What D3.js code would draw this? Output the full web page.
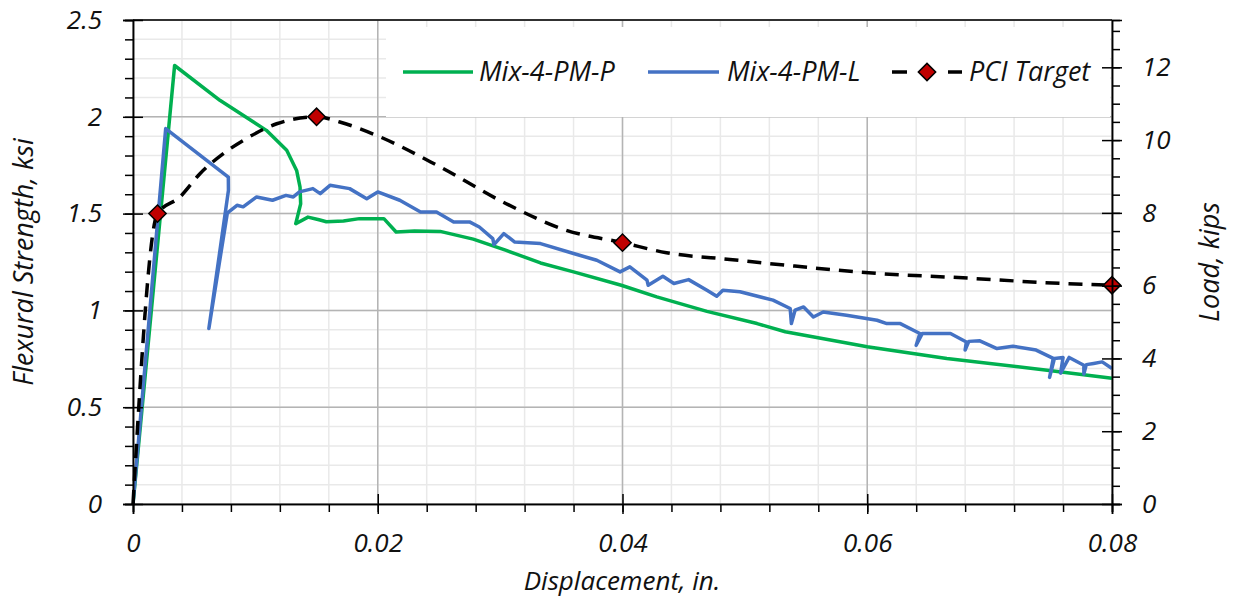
<!DOCTYPE html>
<html><head><meta charset="utf-8">
<script src="https://cdn.jsdelivr.net/npm/d3@7"></script>
<style>
body{margin:0;background:#fff}
text{font-family:"Open Sans",sans-serif;font-style:italic;fill:#111}
</style>
</head><body>
<svg id="chart" width="1233" height="597"></svg>
<script>
// ---- data ----
const xTicks = [0, 0.02, 0.04, 0.06, 0.08];
const xTickLabels = ["0", "0.02", "0.04", "0.06", "0.08"];
const yTicks = [0, 0.5, 1, 1.5, 2, 2.5];
const yTickLabels = ["0", "0.5", "1", "1.5", "2", "2.5"];
const yRightTicks = [0, 2, 4, 6, 8, 10, 12];
const kipsPerKsi = 5.32;
const seriesNames = ["Mix-4-PM-P", "Mix-4-PM-L", "PCI Target"];

const mixP = [[0,0],[0.0034,2.265],[0.0071,2.085],[0.0109,1.93],[0.01256,1.827],[0.01337,1.723],[0.01365,1.637],[0.0137,1.55],[0.0133,1.448],
 [0.0143,1.482],[0.0152,1.468],[0.0158,1.458],[0.0172,1.462],[0.0185,1.474],[0.0205,1.474],[0.0215,1.405],[0.0230,1.41],[0.0251,1.408],
 [0.0278,1.368],[0.0305,1.31],[0.0333,1.245],[0.036,1.199],[0.0399,1.13],[0.0428,1.07],[0.0469,0.995],[0.051,0.932],[0.0533,0.89],
 [0.06,0.812],[0.0665,0.752],[0.0747,0.691],[0.0800,0.650]];

const mixL = [[0,0],[0.00267,1.939],[0.00779,1.689],[0.0078,1.62],[0.0062,0.906],[0.0077,1.50],[0.0078,1.508],[0.0085,1.543],[0.0090,1.535],
 [0.0101,1.586],[0.0114,1.569],[0.0125,1.594],[0.0131,1.586],[0.0136,1.612],[0.0147,1.629],[0.0153,1.603],[0.0161,1.646],[0.0177,1.629],
 [0.0191,1.577],[0.0200,1.612],[0.0218,1.569],[0.0235,1.508],[0.0248,1.508],[0.0262,1.457],[0.0275,1.457],[0.0283,1.431],[0.0294,1.371],
 [0.0295,1.34],[0.0303,1.397],[0.0312,1.353],[0.0333,1.345],[0.036,1.294],[0.0379,1.259],[0.0398,1.199],[0.0406,1.225],[0.042,1.156],
 [0.0421,1.13],[0.0433,1.176],[0.0442,1.139],[0.0454,1.159],[0.0469,1.104],[0.0477,1.073],[0.0482,1.104],[0.0496,1.096],[0.0523,1.053],
 [0.0537,1.01],[0.0538,0.932],[0.0541,1.001],[0.0548,1.018],[0.0556,0.966],[0.0564,0.992],[0.0583,0.975],[0.0608,0.949],[0.0616,0.932],
 [0.0627,0.932],[0.0643,0.881],[0.064,0.82],[0.0645,0.881],[0.0654,0.881],[0.0668,0.881],[0.0681,0.837],[0.068,0.795],[0.0683,0.84],
 [0.0692,0.843],[0.0706,0.803],[0.0719,0.815],[0.0738,0.795],[0.0752,0.752],[0.0749,0.654],[0.0753,0.752],[0.0760,0.757],[0.0758,0.676],
 [0.0765,0.757],[0.0777,0.717],[0.0777,0.671],[0.0779,0.72],[0.0785,0.726],[0.0792,0.734],[0.0800,0.70]];

const pciCurve = [[0,0],[0.002,1.5],[0.00384,1.586],[0.00547,1.706],[0.00738,1.81],[0.00901,1.878],[0.01174,1.964],[0.015,2.0],
 [0.0169,1.973],[0.0199,1.904],[0.0251,1.741],[0.0305,1.551],[0.0354,1.414],[0.04,1.35],[0.0436,1.298],[0.049,1.262],[0.0534,1.233],
 [0.061,1.19],[0.067,1.171],[0.076,1.139],[0.08,1.13]];
const pciTargets = [[0.002,1.5],[0.015,2.0],[0.04,1.35],[0.08,1.13]];

// ---- chart ----
const svg = d3.select("#chart");
const L = 133, R = 1112, T = 20, B = 504;
const x = d3.scaleLinear().domain([0, 0.08]).range([L, R]);
const y = d3.scaleLinear().domain([0, 2.5]).range([B, T]);
const yR = d3.scaleLinear().domain([0, 2.5 * kipsPerKsi]).range([B, T]);

const xMinor = d3.range(0, 21).map(i => i * 0.004);
const yMinor = d3.range(0, 26).map(i => i / 10);
const yRMinor = d3.range(0, 27).map(i => i * 0.5).filter(v => v <= 2.5 * kipsPerKsi);

// grid
const grid = svg.append("g");
grid.selectAll(".gx").data(xMinor).join("line")
  .attr("x1", d => x(d)).attr("x2", d => x(d)).attr("y1", T).attr("y2", B)
  .attr("stroke", "#e9e9e9").attr("stroke-width", 1.5);
grid.selectAll(".gy").data(yMinor).join("line")
  .attr("y1", d => y(d)).attr("y2", d => y(d)).attr("x1", L).attr("x2", R)
  .attr("stroke", "#e9e9e9").attr("stroke-width", 1.5);
grid.selectAll(".gX").data(xTicks).join("line")
  .attr("x1", d => x(d)).attr("x2", d => x(d)).attr("y1", T).attr("y2", B)
  .attr("stroke", "#b4b4b4").attr("stroke-width", 1.5);
grid.selectAll(".gY").data(yTicks).join("line")
  .attr("y1", d => y(d)).attr("y2", d => y(d)).attr("x1", L).attr("x2", R)
  .attr("stroke", "#b4b4b4").attr("stroke-width", 1.5);

// legend box background
svg.append("rect").attr("x", 386).attr("y", 27).attr("width", 724).attr("height", 90).attr("fill", "#fff");

// series
const clip = svg.append("clipPath").attr("id", "plotclip").append("rect")
  .attr("x", L).attr("y", T - 5).attr("width", R - L + 1).attr("height", B - T + 5);
const plot = svg.append("g").attr("clip-path", "url(#plotclip)");
const line = d3.line().x(d => x(d[0])).y(d => y(d[1]));
plot.append("path").datum(mixP).attr("d", line).attr("fill", "none")
  .attr("stroke", "#00b050").attr("stroke-width", 3.5).attr("stroke-linejoin", "round");
plot.append("path").datum(mixL).attr("d", line).attr("fill", "none")
  .attr("stroke", "#4472c4").attr("stroke-width", 3.5).attr("stroke-linejoin", "round");
const smooth = d3.line().x(d => x(d[0])).y(d => y(d[1])).curve(d3.curveMonotoneX);
svg.append("path").datum(pciCurve).attr("d", smooth).attr("fill", "none")
  .attr("stroke", "#000").attr("stroke-width", 3.5).attr("stroke-dasharray", "14,9");

const diamond = d3.symbol().type(d3.symbolSquare).size(150);
svg.selectAll(".mk").data(pciTargets).join("path")
  .attr("d", diamond)
  .attr("transform", d => `translate(${x(d[0])},${y(d[1])}) rotate(45)`)
  .attr("fill", "#c00000").attr("stroke", "#000").attr("stroke-width", 1.5);

// frame
svg.append("line").attr("x1", L).attr("x2", R).attr("y1", T).attr("y2", T).attr("stroke", "#000").attr("stroke-width", 1.5);

// axes
const fs = "26px";
// left
const gl = svg.append("g").attr("transform", `translate(${L},0)`);
gl.call(d3.axisLeft(y).tickValues(yMinor).tickSize(8).tickFormat(""));
const glM = svg.append("g").attr("transform", `translate(${L},0)`)
  .call(d3.axisLeft(y).tickValues(yTicks).tickSize(10).tickPadding(21).tickFormat((d, i) => yTickLabels[i]));
glM.selectAll(".tick line").attr("x2", -10).attr("x1", 10);
[gl, glM].forEach(g => { g.select(".domain").attr("stroke", "#000").attr("stroke-width", 1.5);
  g.selectAll("line").attr("stroke", "#000").attr("stroke-width", 1.5); });
glM.selectAll("text").attr("font-size", fs).style("font-family", '"Open Sans",sans-serif');

// bottom
const gb = svg.append("g").attr("transform", `translate(0,${B})`);
gb.call(d3.axisBottom(x).tickValues(xMinor).tickSize(8).tickFormat(""));
const gbM = svg.append("g").attr("transform", `translate(0,${B})`)
  .call(d3.axisBottom(x).tickValues(xTicks).tickSize(10).tickPadding(20).tickFormat((d, i) => xTickLabels[i]));
gbM.selectAll(".tick line").attr("y1", -10).attr("y2", 10);
[gb, gbM].forEach(g => { g.select(".domain").attr("stroke", "#000").attr("stroke-width", 1.5);
  g.selectAll("line").attr("stroke", "#000").attr("stroke-width", 1.5); });
gbM.selectAll("text").attr("font-size", fs).style("font-family", '"Open Sans",sans-serif');

// right
const gr = svg.append("g").attr("transform", `translate(${R},0)`);
gr.call(d3.axisRight(yR).tickValues(yRMinor).tickSize(8).tickFormat(""));
const grM = svg.append("g").attr("transform", `translate(${R},0)`)
  .call(d3.axisRight(yR).tickValues(yRightTicks).tickSize(10).tickPadding(20).tickFormat(d3.format("d")));
grM.selectAll(".tick line").attr("x1", -10).attr("x2", 10);
[gr, grM].forEach(g => { g.select(".domain").attr("stroke", "#000").attr("stroke-width", 1.5);
  g.selectAll("line").attr("stroke", "#000").attr("stroke-width", 1.5); });
grM.selectAll("text").attr("font-size", fs).style("font-family", '"Open Sans",sans-serif');
svg.selectAll(".domain").attr("stroke", "#000");
svg.selectAll(".tick text").attr("fill", "#111").style("font-style", "italic");

// axis titles
svg.append("text").attr("transform", "translate(33,262) rotate(-90)").attr("text-anchor", "middle")
  .attr("font-size", "27px").text("Flexural Strength, ksi");
svg.append("text").attr("transform", "translate(1219,262) rotate(-90)").attr("text-anchor", "middle")
  .attr("font-size", "27px").text("Load, kips");
svg.append("text").attr("x", 622).attr("y", 590).attr("text-anchor", "middle")
  .attr("font-size", "26px").text("Displacement, in.");

// legend
const lg = svg.append("g");
const ly = 72;
lg.append("line").attr("x1", 403).attr("x2", 473).attr("y1", ly).attr("y2", ly).attr("stroke", "#00b050").attr("stroke-width", 3.5);
lg.append("text").attr("x", 479).attr("y", 81).attr("font-size", "27px").text(seriesNames[0]);
lg.append("line").attr("x1", 648).attr("x2", 719).attr("y1", ly).attr("y2", ly).attr("stroke", "#4472c4").attr("stroke-width", 3.5);
lg.append("text").attr("x", 727).attr("y", 81).attr("font-size", "27px").text(seriesNames[1]);
lg.append("line").attr("x1", 892).attr("x2", 907).attr("y1", ly).attr("y2", ly).attr("stroke", "#000").attr("stroke-width", 3.5);
lg.append("line").attr("x1", 948).attr("x2", 962).attr("y1", ly).attr("y2", ly).attr("stroke", "#000").attr("stroke-width", 3.5);
lg.append("path").attr("d", diamond).attr("transform", `translate(927,${ly}) rotate(45)`)
  .attr("fill", "#c00000").attr("stroke", "#000").attr("stroke-width", 1.5);
lg.append("text").attr("x", 969).attr("y", 81).attr("font-size", "27px").text(seriesNames[2]);
</script>
</body></html>
